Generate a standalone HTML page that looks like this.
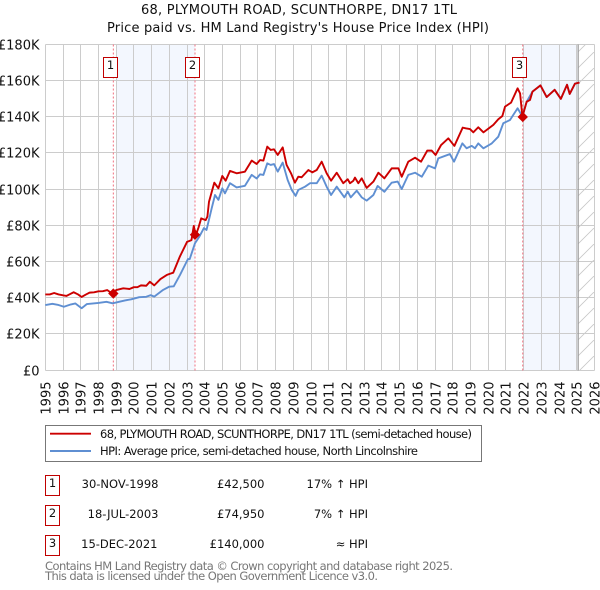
<!DOCTYPE html>
<html>
<head>
<meta charset="utf-8">
<style>
html,body{margin:0;padding:0;background:#fff;width:600px;height:590px;overflow:hidden}
svg{display:block}
text{font-family:"DejaVu Sans","Liberation Sans",sans-serif;fill:#111}
</style>
</head>
<body>
<svg id="chart" xmlns="http://www.w3.org/2000/svg" width="600" height="590" viewBox="0 0 600 590">
<defs>
<pattern id="hatch" width="16" height="16" patternUnits="userSpaceOnUse" patternTransform="translate(578 4)">
<path d="M-2 18 L18 -2" stroke="#c8c8c8" stroke-width="0.8" fill="none"/>
</pattern>
</defs>
<text x="299" y="14" text-anchor="middle" font-size="13" textLength="316" lengthAdjust="spacing">68, PLYMOUTH ROAD, SCUNTHORPE, DN17 1TL</text>
<text x="298" y="32" text-anchor="middle" font-size="13" textLength="382" lengthAdjust="spacing">Price paid vs. HM Land Registry's House Price Index (HPI)</text>
<g id="plot"></g>
<g>
<rect x="45.5" y="425.5" width="436" height="36" fill="#fff" stroke="#777" stroke-width="1"/>
<line x1="50" x2="91" y1="433.7" y2="433.7" stroke="#cc0000" stroke-width="1.9"/>
<line x1="50" x2="91" y1="451" y2="451" stroke="#5f8fd2" stroke-width="1.9"/>
<text x="100" y="438" font-size="11.5" textLength="372" lengthAdjust="spacing">68, PLYMOUTH ROAD, SCUNTHORPE, DN17 1TL (semi-detached house)</text>
<text x="100" y="455" font-size="11.5" textLength="318" lengthAdjust="spacing">HPI: Average price, semi-detached house, North Lincolnshire</text>
</g>
<g font-size="11.5">
<g>
<rect x="45.5" y="475.5" width="14" height="20" fill="#fff" stroke="#c00000" stroke-width="1"/>
<text x="52.5" y="487" text-anchor="middle" font-size="11.5">1</text>
<text x="158.5" y="488" text-anchor="end" font-size="11.5">30-NOV-1998</text>
<text x="264.5" y="488" text-anchor="end" font-size="11.5">£42,500</text>
<text x="368" y="488" text-anchor="end" font-size="11.5">17% ↑ HPI</text>
</g>
<g>
<rect x="45.5" y="505.5" width="14" height="20" fill="#fff" stroke="#c00000" stroke-width="1"/>
<text x="52.5" y="517" text-anchor="middle" font-size="11.5">2</text>
<text x="158.5" y="518" text-anchor="end" font-size="11.5">18-JUL-2003</text>
<text x="264.5" y="518" text-anchor="end" font-size="11.5">£74,950</text>
<text x="368" y="518" text-anchor="end" font-size="11.5">7% ↑ HPI</text>
</g>
<g>
<rect x="45.5" y="535.5" width="14" height="20" fill="#fff" stroke="#c00000" stroke-width="1"/>
<text x="52.5" y="547" text-anchor="middle" font-size="11.5">3</text>
<text x="157.5" y="548" text-anchor="end" font-size="11.5">15-DEC-2021</text>
<text x="264.5" y="548" text-anchor="end" font-size="11.5">£140,000</text>
<text x="368" y="548" text-anchor="end" font-size="11.5">≈ HPI</text>
</g>
</g>
<text x="45" y="570" font-size="11.5" style="fill:#777" textLength="408" lengthAdjust="spacing">Contains HM Land Registry data © Crown copyright and database right 2025.</text>
<text x="45" y="580" font-size="11.5" style="fill:#777" textLength="333" lengthAdjust="spacing">This data is licensed under the Open Government Licence v3.0.</text>
</svg>
<script>
var yearTicks = [1995,1996,1997,1998,1999,2000,2001,2002,2003,2004,2005,2006,2007,2008,2009,2010,2011,2012,2013,2014,2015,2016,2017,2018,2019,2020,2021,2022,2023,2024,2025,2026];
var priceTicks = [0,20,40,60,80,100,120,140,160,180];
var priceTickLabels = ["£0","£20K","£40K","£60K","£80K","£100K","£120K","£140K","£160K","£180K"];
var priceYears = [1995,1995.25,1995.5,1995.75,1996,1996.2,1996.4,1996.6,1996.85,1997.05,1997.3,1997.5,1997.75,1998,1998.25,1998.5,1998.7,1998.84,1999,1999.4,1999.75,2000,2000.2,2000.4,2000.7,2000.9,2001.15,2001.5,2001.85,2002,2002.22,2002.6,2003,2003.25,2003.38,2003.5,2003.65,2003.8,2004.05,2004.15,2004.24,2004.54,2004.77,2004.99,2005.18,2005.425,2005.8,2006.27,2006.65,2006.93,2007.12,2007.31,2007.53,2007.72,2007.91,2008.12,2008.4,2008.62,2008.87,2009.09,2009.28,2009.47,2009.85,2010.07,2010.32,2010.6,2010.88,2011.13,2011.45,2011.82,2012.07,2012.2,2012.39,2012.48,2012.67,2012.86,2013.14,2013.52,2013.8,2014.14,2014.55,2014.93,2015.12,2015.49,2015.87,2016.21,2016.56,2016.81,2017.03,2017.34,2017.75,2018.09,2018.56,2018.73,2018.97,2019.16,2019.44,2019.73,2020.29,2020.57,2020.8,2020.95,2021.29,2021.66,2021.8,2021.93,2022.17,2022.36,2022.5,2022.95,2023.3,2023.75,2024.1,2024.45,2024.6,2024.9,2025.15];
var priceValues = [42,42,42.8,42,41.5,41.2,42.2,43.2,42,40.6,42,43,43.2,43.7,43.8,44.4,43,42.5,44.4,45.4,45,46,46,47,46.8,49,47,50.5,52.7,53.3,54,63,71,72,79.8,74.8,79,84,83,85,93.2,103.7,100.6,107.4,104.8,110.2,108.9,109.8,115.9,114,116.2,115.9,123.6,121.8,122.1,119,123.2,113.5,108.9,103.7,107,106.7,110.7,109.4,110.7,115.3,108.9,104.8,109.2,103.4,105.6,103.4,104.8,106.5,103.4,106.1,100.8,104.3,109.2,106.1,111.6,111.6,107,115.3,117.5,115.3,121.4,121.4,119,124.5,128.2,124,134.1,133.7,133.3,131.5,134.3,131.5,135.6,138.7,140.5,145.7,147.9,155.8,153,140.2,148.4,149.4,154,157.4,151,155,150,157.8,152.7,158.4,159];
var hpiYears = [1995,1995.4,1995.7,1996.05,1996.45,1996.7,1997.05,1997.35,1998,1998.45,1998.8,1999.1,1999.5,1999.85,2000.3,2000.7,2000.95,2001.15,2001.65,2002,2002.25,2002.6,2003.05,2003.15,2003.45,2003.7,2003.95,2004.1,2004.39,2004.58,2004.77,2004.99,2005.14,2005.425,2005.8,2006.27,2006.65,2006.93,2007.12,2007.31,2007.53,2007.72,2007.91,2008.12,2008.4,2008.68,2008.91,2009.13,2009.28,2009.66,2009.94,2010.32,2010.6,2010.88,2011.13,2011.45,2011.88,2012.07,2012.24,2012.58,2012.86,2013.14,2013.52,2013.76,2014.14,2014.55,2014.89,2015.12,2015.49,2015.87,2016.25,2016.62,2017,2017.18,2017.84,2018.07,2018.54,2018.78,2019.07,2019.25,2019.44,2019.73,2020.2,2020.57,2020.85,2021.23,2021.66,2021.93,2022.17,2022.5,2022.95,2023.3,2023.75,2024.1,2024.45,2024.6,2024.9,2025.15];
var hpiValues = [36.1,36.8,36.3,35.2,36.5,37,34.4,36.7,37.3,37.9,37.1,37.8,38.7,39.3,40.5,40.7,41.6,40.8,44.5,46.3,46.5,52.7,61.5,61.5,70.3,74,78.6,77.6,89.5,96.9,94.2,100.6,97.8,103.4,101.1,102,108,106,108.3,108,114.4,113.5,114,109.8,114.8,105.2,99.7,96.4,99.7,101.5,103.4,103.4,107.6,101.5,96.9,101.5,95.6,98.8,95.6,99.3,95.6,93.8,96.9,101.9,98.7,103.7,104.3,100.2,108,109.2,107,113.1,111.6,117.1,119.5,115.3,125.4,122.7,124,122.7,125.4,122.7,125.4,129.1,136.5,138.3,144.8,140.2,148.4,154,157.4,151,155,150,157.8,152.7,158.4,159];
var saleYears = [1998.84,2003.45,2021.95];
var salePrices = [42.5,74.95,140];
var saleNumbers = ["1","2","3"];
var shadeStarts = [1999,2021.97];
var shadeEnds = [2003.45,2025.05];

var NS = "http://www.w3.org/2000/svg";
var plot = document.getElementById("plot");
var left = 45.3, right = 594.5, top_ = 44.5, bottom = 370.5;
function xScale(y){ return left + (y - 1995) * (right - left) / 31; }
function yScale(v){ return bottom - v * (bottom - top_) / 180; }
function snap(p){ return Math.floor(p) + 0.5; }
function make(tag, attrs, parent){
  var el = document.createElementNS(NS, tag);
  for (var k in attrs) el.setAttribute(k, attrs[k]);
  (parent || plot).appendChild(el);
  return el;
}
function pathFrom(xs, vs){
  var d = "";
  for (var i = 0; i < xs.length; i++) d += (i ? "L" : "M") + xScale(xs[i]).toFixed(2) + " " + yScale(vs[i]).toFixed(2);
  return d;
}

shadeStarts.forEach(function(s, i){
  var r = make("rect", {x: xScale(s), y: top_, width: xScale(shadeEnds[i]) - xScale(s), height: bottom - top_, fill: "#f3f7fe"});
  
  
});

var hatchRect = make("rect", {x: xScale(2025.05) + 0.5, y: top_, width: right - xScale(2025.05) - 0.5, height: bottom - top_, fill: "url(#hatch)"});



yearTicks.forEach(function(y){
  var x = snap(xScale(y));
  var g = make("line", {x1: x, x2: x, y1: top_, y2: bottom, stroke: "#cccccc", "stroke-width": 1, "shape-rendering": "crispEdges"});
  
  
  var t = make("text", {"font-size": 13, "text-anchor": "end", transform: "translate(" + (x + 5) + " 381.5) rotate(-90)"});
  t.textContent = y;
  
  
});
priceTicks.forEach(function(v, i){
  var y = snap(yScale(v) - 0.3);
  var g = make("line", {x1: left, x2: right, y1: y, y2: y, stroke: "#cccccc", "stroke-width": 1, "shape-rendering": "crispEdges"});
  
  
  var t = make("text", {"font-size": 13, "text-anchor": "end", x: 39.5, y: y + 5});
  t.textContent = priceTickLabels[i];
  
  
});

var endLine = make("line", {x1: xScale(2025.05) + 0.5, x2: xScale(2025.05) + 0.5, y1: top_, y2: bottom, stroke: "#999", "stroke-width": 1.2});



saleYears.forEach(function(y){
  var x = xScale(y);
  var l = make("line", {x1: x, x2: x, y1: top_, y2: bottom, stroke: "#f07080", "stroke-width": 1, "stroke-dasharray": "2 2"});
  
  
});

var hpiLine = make("path", {d: pathFrom(hpiYears, hpiValues), fill: "none", stroke: "#5f8fd2", "stroke-width": 1.9, "stroke-linejoin": "round"});


var priceLine = make("path", {d: pathFrom(priceYears, priceValues), fill: "none", stroke: "#cc0000", "stroke-width": 1.9, "stroke-linejoin": "round"});



saleYears.forEach(function(y, i){
  var x = xScale(y), p = yScale(salePrices[i]), r = 5.2;
  var m = make("path", {d: "M" + x + " " + (p - r) + "L" + (x + r) + " " + p + "L" + x + " " + (p + r) + "L" + (x - r) + " " + p + "Z", fill: "#cc0000"});
  
  
  var b = make("rect", {x: snap(x - 10), y: 57.5, width: 14, height: 20, fill: "#fff", stroke: "#c00000", "stroke-width": 1});
  
  
  var t = make("text", {x: snap(x - 10) + 7, y: 69, "text-anchor": "middle", "font-size": 11.5});
  t.textContent = saleNumbers[i];
  
  
});
</script>
</body>
</html>
